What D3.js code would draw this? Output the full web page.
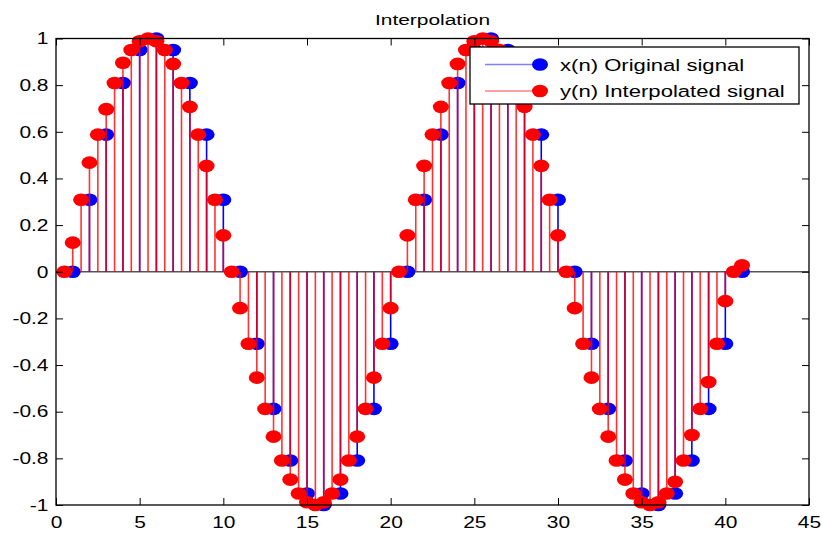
<!DOCTYPE html>
<html>
<head>
<meta charset="utf-8">
<script src="https://cdn.jsdelivr.net/npm/d3@7"></script>
<style>
  html, body { margin: 0; padding: 0; background: #fff; }
  svg { display: block; font-family: "Liberation Sans", Arial, Helvetica, sans-serif; }
</style>
</head>
<body>
<svg id="chart" width="822" height="534"></svg>
<script>
// x(n): original samples, stemmed at n = 1..41
const originalValues = [
  0, 0.309, 0.588, 0.809, 0.951, 1, 0.951, 0.809, 0.588, 0.309,
  0, -0.309, -0.588, -0.809, -0.951, -1, -0.951, -0.809, -0.588, -0.309,
  0, 0.309, 0.588, 0.809, 0.951, 1, 0.951, 0.809, 0.588, 0.309,
  0, -0.309, -0.588, -0.809, -0.951, -1, -0.951, -0.809, -0.588, -0.309,
  0
];

// y(n): interpolated by 2, stemmed at t = 0.5, 1, 1.5, ... 41
const interpolatedValues = [
  0, 0.125, 0.309, 0.468, 0.588, 0.697, 0.809, 0.896, 0.951, 0.988,
  1, 0.988, 0.951, 0.891, 0.809, 0.707, 0.588, 0.454, 0.309, 0.156,
  0, -0.156, -0.309, -0.454, -0.588, -0.707, -0.809, -0.891, -0.951, -0.988,
  -1, -0.988, -0.951, -0.891, -0.809, -0.707, -0.588, -0.454, -0.309, -0.156,
  0, 0.156, 0.309, 0.454, 0.588, 0.707, 0.809, 0.891, 0.951, 0.988,
  1, 0.988, 0.951, 0.891, 0.809, 0.707, 0.588, 0.454, 0.309, 0.156,
  0, -0.156, -0.309, -0.454, -0.588, -0.707, -0.809, -0.891, -0.951, -0.988,
  -1, -0.988, -0.951, -0.90, -0.809, -0.70, -0.588, -0.473, -0.309, -0.126,
  0, 0.028
];

const xTicks = [0, 5, 10, 15, 20, 25, 30, 35, 40, 45];
const yTicks = [-1, -0.8, -0.6, -0.4, -0.2, 0, 0.2, 0.4, 0.6, 0.8, 1];
const yTickLabels = ["-1", "-0.8", "-0.6", "-0.4", "-0.2", "0", "0.2", "0.4", "0.6", "0.8", "1"];

const titleText = "Interpolation";
const legendLabels = ["x(n) Original signal", "y(n) Interpolated signal"];
const seriesColors = ["#0000ff", "#ff0000"];

const svg = d3.select("#chart");
const box = { left: 56, right: 809, top: 38.5, bottom: 505 };
const stretch = 1.27; // glyphs are drawn wide

const x = d3.scaleLinear().domain([0, 45]).range([box.left, box.right]);
const y = d3.scaleLinear().domain([-1, 1]).range([box.bottom, box.top]);

const origPts = originalValues.map((v, i) => ({ t: i + 1, v }));
const interpPts = interpolatedValues.map((v, i) => ({ t: (i + 1) / 2, v }));

// white axes area
svg.append("rect")
  .attr("x", box.left).attr("y", box.top)
  .attr("width", box.right - box.left).attr("height", box.bottom - box.top)
  .attr("fill", "#fff");

// stem baseline
svg.append("line")
  .attr("x1", box.left).attr("x2", box.right)
  .attr("y1", y(0)).attr("y2", y(0))
  .attr("stroke", "#555").attr("stroke-width", 1.3);

const rx = 8, ry = 6.3;

function drawStems(pts, color, opacity) {
  const g = svg.append("g");
  g.selectAll("line").data(pts).join("line")
    .attr("x1", d => x(d.t)).attr("x2", d => x(d.t))
    .attr("y1", y(0)).attr("y2", d => y(d.v))
    .attr("stroke", color).attr("stroke-width", 1.6)
    .attr("stroke-opacity", opacity);
  g.selectAll("ellipse").data(pts).join("ellipse")
    .attr("cx", d => x(d.t)).attr("cy", d => y(d.v))
    .attr("rx", rx).attr("ry", ry)
    .attr("fill", color);
}

drawStems(origPts, seriesColors[0], 1);
drawStems(interpPts, seriesColors[1], 0.8);

// axes box with inward ticks on all four sides
const fontSize = 16.5;
function styleAxis(g) {
  g.select(".domain").remove();
  g.selectAll(".tick line").attr("stroke", "#000").attr("stroke-width", 1);
  g.selectAll("text")
    .attr("fill", "#000")
    .attr("font-size", fontSize)
    .attr("font-family", "'Liberation Sans', Arial, sans-serif");
}

const gBottom = svg.append("g")
  .attr("transform", `translate(0,${box.bottom})`)
  .call(d3.axisBottom(x).tickValues(xTicks).tickSizeInner(-7).tickSizeOuter(0).tickPadding(11).tickFormat(d => String(d)));
styleAxis(gBottom);
gBottom.selectAll("text").attr("transform", `scale(${stretch},1)`);

const gLeft = svg.append("g")
  .attr("transform", `translate(${box.left},0)`)
  .call(d3.axisLeft(y).tickValues(yTicks).tickSizeInner(-7).tickSizeOuter(0)
    .tickFormat((d, i) => yTickLabels[i]));
styleAxis(gLeft);
gLeft.selectAll("text").attr("x", 0).attr("transform", `translate(-7.5,0) scale(${stretch},1)`);

const gTop = svg.append("g")
  .attr("transform", `translate(0,${box.top})`)
  .call(d3.axisTop(x).tickValues(xTicks).tickSizeInner(-7).tickSizeOuter(0).tickFormat(""));
styleAxis(gTop);

const gRight = svg.append("g")
  .attr("transform", `translate(${box.right},0)`)
  .call(d3.axisRight(y).tickValues(yTicks).tickSizeInner(-7).tickSizeOuter(0).tickFormat(""));
styleAxis(gRight);

svg.append("rect")
  .attr("x", box.left).attr("y", box.top)
  .attr("width", box.right - box.left).attr("height", box.bottom - box.top)
  .attr("fill", "none").attr("stroke", "#000").attr("stroke-width", 1.3);

// title
svg.append("text")
  .attr("transform", `translate(${(box.left + box.right) / 2},25) scale(1.35,1)`)
  .attr("text-anchor", "middle")
  .attr("font-size", 15.5)
  .attr("fill", "#000")
  .text(titleText);

// legend
const lg = svg.append("g");
lg.append("rect")
  .attr("x", 470).attr("y", 47).attr("width", 329).attr("height", 57)
  .attr("fill", "#fff").attr("stroke", "#000").attr("stroke-width", 1.3);
legendLabels.forEach((label, i) => {
  const cy = 64.5 + i * 26.5;
  lg.append("line")
    .attr("x1", 485).attr("x2", 540).attr("y1", cy).attr("y2", cy)
    .attr("stroke", seriesColors[i]).attr("stroke-opacity", 0.5).attr("stroke-width", 1.3);
  lg.append("ellipse")
    .attr("cx", 540).attr("cy", cy).attr("rx", rx).attr("ry", ry)
    .attr("fill", seriesColors[i]);
  lg.append("text")
    .attr("transform", `translate(560,${cy}) scale(1.3,1)`)
    .attr("dy", "0.36em")
    .attr("font-size", 17)
    .attr("fill", "#000")
    .text(label);
});
</script>
</body>
</html>
